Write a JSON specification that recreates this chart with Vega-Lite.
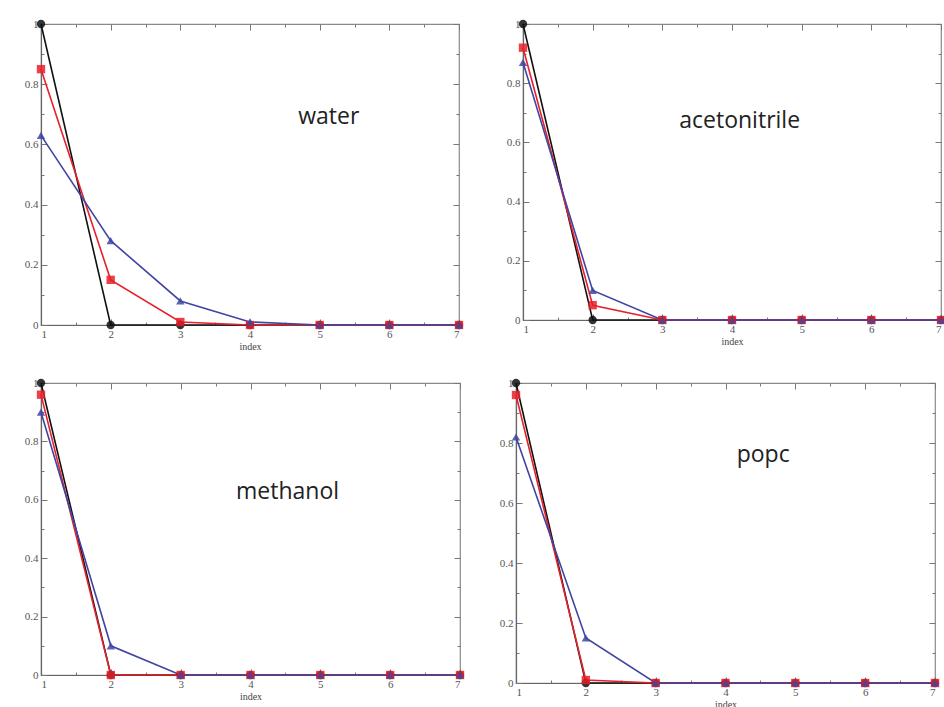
{
  "$schema": "https://vega.github.io/schema/vega-lite/v6.json",
  "padding": {"left": 4, "top": 17, "right": 0, "bottom": 0},
  "background": "white",
  "datasets": {
    "curves": [
      {"panel": "water", "series": "A", "index": 1, "value": 1.0},
      {"panel": "water", "series": "A", "index": 2, "value": 0},
      {"panel": "water", "series": "A", "index": 3, "value": 0},
      {"panel": "water", "series": "A", "index": 4, "value": 0},
      {"panel": "water", "series": "A", "index": 5, "value": 0},
      {"panel": "water", "series": "A", "index": 6, "value": 0},
      {"panel": "water", "series": "A", "index": 7, "value": 0},
      {"panel": "water", "series": "B", "index": 1, "value": 0.85},
      {"panel": "water", "series": "B", "index": 2, "value": 0.15},
      {"panel": "water", "series": "B", "index": 3, "value": 0.01},
      {"panel": "water", "series": "B", "index": 4, "value": 0},
      {"panel": "water", "series": "B", "index": 5, "value": 0},
      {"panel": "water", "series": "B", "index": 6, "value": 0},
      {"panel": "water", "series": "B", "index": 7, "value": 0},
      {"panel": "water", "series": "C", "index": 1, "value": 0.63},
      {"panel": "water", "series": "C", "index": 2, "value": 0.28},
      {"panel": "water", "series": "C", "index": 3, "value": 0.08},
      {"panel": "water", "series": "C", "index": 4, "value": 0.01},
      {"panel": "water", "series": "C", "index": 5, "value": 0},
      {"panel": "water", "series": "C", "index": 6, "value": 0},
      {"panel": "water", "series": "C", "index": 7, "value": 0},
      {"panel": "acetonitrile", "series": "A", "index": 1, "value": 1.0},
      {"panel": "acetonitrile", "series": "A", "index": 2, "value": 0},
      {"panel": "acetonitrile", "series": "A", "index": 3, "value": 0},
      {"panel": "acetonitrile", "series": "A", "index": 4, "value": 0},
      {"panel": "acetonitrile", "series": "A", "index": 5, "value": 0},
      {"panel": "acetonitrile", "series": "A", "index": 6, "value": 0},
      {"panel": "acetonitrile", "series": "A", "index": 7, "value": 0},
      {"panel": "acetonitrile", "series": "B", "index": 1, "value": 0.92},
      {"panel": "acetonitrile", "series": "B", "index": 2, "value": 0.05},
      {"panel": "acetonitrile", "series": "B", "index": 3, "value": 0},
      {"panel": "acetonitrile", "series": "B", "index": 4, "value": 0},
      {"panel": "acetonitrile", "series": "B", "index": 5, "value": 0},
      {"panel": "acetonitrile", "series": "B", "index": 6, "value": 0},
      {"panel": "acetonitrile", "series": "B", "index": 7, "value": 0},
      {"panel": "acetonitrile", "series": "C", "index": 1, "value": 0.87},
      {"panel": "acetonitrile", "series": "C", "index": 2, "value": 0.10},
      {"panel": "acetonitrile", "series": "C", "index": 3, "value": 0},
      {"panel": "acetonitrile", "series": "C", "index": 4, "value": 0},
      {"panel": "acetonitrile", "series": "C", "index": 5, "value": 0},
      {"panel": "acetonitrile", "series": "C", "index": 6, "value": 0},
      {"panel": "acetonitrile", "series": "C", "index": 7, "value": 0},
      {"panel": "methanol", "series": "A", "index": 1, "value": 1.0},
      {"panel": "methanol", "series": "A", "index": 2, "value": 0},
      {"panel": "methanol", "series": "A", "index": 3, "value": 0},
      {"panel": "methanol", "series": "A", "index": 4, "value": 0},
      {"panel": "methanol", "series": "A", "index": 5, "value": 0},
      {"panel": "methanol", "series": "A", "index": 6, "value": 0},
      {"panel": "methanol", "series": "A", "index": 7, "value": 0},
      {"panel": "methanol", "series": "B", "index": 1, "value": 0.96},
      {"panel": "methanol", "series": "B", "index": 2, "value": 0},
      {"panel": "methanol", "series": "B", "index": 3, "value": 0},
      {"panel": "methanol", "series": "B", "index": 4, "value": 0},
      {"panel": "methanol", "series": "B", "index": 5, "value": 0},
      {"panel": "methanol", "series": "B", "index": 6, "value": 0},
      {"panel": "methanol", "series": "B", "index": 7, "value": 0},
      {"panel": "methanol", "series": "C", "index": 1, "value": 0.90},
      {"panel": "methanol", "series": "C", "index": 2, "value": 0.10},
      {"panel": "methanol", "series": "C", "index": 3, "value": 0},
      {"panel": "methanol", "series": "C", "index": 4, "value": 0},
      {"panel": "methanol", "series": "C", "index": 5, "value": 0},
      {"panel": "methanol", "series": "C", "index": 6, "value": 0},
      {"panel": "methanol", "series": "C", "index": 7, "value": 0},
      {"panel": "popc", "series": "A", "index": 1, "value": 1.0},
      {"panel": "popc", "series": "A", "index": 2, "value": 0},
      {"panel": "popc", "series": "A", "index": 3, "value": 0},
      {"panel": "popc", "series": "A", "index": 4, "value": 0},
      {"panel": "popc", "series": "A", "index": 5, "value": 0},
      {"panel": "popc", "series": "A", "index": 6, "value": 0},
      {"panel": "popc", "series": "A", "index": 7, "value": 0},
      {"panel": "popc", "series": "B", "index": 1, "value": 0.96},
      {"panel": "popc", "series": "B", "index": 2, "value": 0.01},
      {"panel": "popc", "series": "B", "index": 3, "value": 0},
      {"panel": "popc", "series": "B", "index": 4, "value": 0},
      {"panel": "popc", "series": "B", "index": 5, "value": 0},
      {"panel": "popc", "series": "B", "index": 6, "value": 0},
      {"panel": "popc", "series": "B", "index": 7, "value": 0},
      {"panel": "popc", "series": "C", "index": 1, "value": 0.82},
      {"panel": "popc", "series": "C", "index": 2, "value": 0.15},
      {"panel": "popc", "series": "C", "index": 3, "value": 0},
      {"panel": "popc", "series": "C", "index": 4, "value": 0},
      {"panel": "popc", "series": "C", "index": 5, "value": 0},
      {"panel": "popc", "series": "C", "index": 6, "value": 0},
      {"panel": "popc", "series": "C", "index": 7, "value": 0}
    ],
    "labels": [
      {"panel": "water", "label": "water", "x": 5.13, "y": 0.69},
      {"panel": "acetonitrile", "label": "acetonitrile", "x": 4.11, "y": 0.672},
      {"panel": "methanol", "label": "methanol", "x": 4.53, "y": 0.627},
      {"panel": "popc", "label": "popc", "x": 4.54, "y": 0.76}
    ]
  },
  "config": {
    "view": {"stroke": "#8a8a8a", "strokeWidth": 1.2},
    "axis": {
      "grid": false,
      "labelFont": "Liberation Serif",
      "labelFontSize": 11,
      "labelColor": "#555555",
      "domainColor": "#666666",
      "domainWidth": 1.2,
      "tickColor": "#777777",
      "tickWidth": 1,
      "titleFont": "Liberation Serif",
      "titleFontSize": 10,
      "titleFontWeight": "normal",
      "titleColor": "#444444"
    }
  },
  "concat": [
    {
      "width": 418, "height": 301,
      "layer": [
        {"data": {"name": "curves"}, "transform": [{"filter": "datum.panel === 'water'"}],
         "mark": {"type": "line", "strokeWidth": 1.6},
         "encoding": {
           "x": {"field": "index", "type": "quantitative", "scale": {"domain": [1, 7], "nice": false},
                 "axis": {"orient": "bottom", "values": [1, 1.5, 2, 2.5, 3, 3.5, 4, 4.5, 5, 5.5, 6, 6.5, 7], "labelExpr": "datum.value % 1 === 0 ? format(datum.value, 'd') : ''", "tickSize": {"condition": {"test": "datum.value % 1 === 0", "value": -6}, "value": -3}, "labelPadding": 9, "title": "index", "titlePadding": 2, "minExtent": 14, "maxExtent": 14}},
           "y": {"field": "value", "type": "quantitative", "scale": {"domain": [0, 1], "nice": false},
                 "axis": {"orient": "left", "values": [0, 0.1, 0.2, 0.3, 0.4, 0.5, 0.6, 0.7, 0.8, 0.9, 1], "labelExpr": "round(datum.value * 10) % 2 === 0 ? format(datum.value, '~g') : ''", "tickSize": {"condition": {"test": "round(datum.value * 10) % 2 === 0", "value": -6}, "value": -3}, "labelPadding": 9, "title": null, "minExtent": 27, "maxExtent": 27}},
           "color": {"field": "series", "type": "nominal", "scale": {"domain": ["A", "B", "C"], "range": ["#111111", "#e8202a", "#4045a3"]}, "legend": null}
         }},
        {"data": {"name": "curves"}, "transform": [{"filter": "datum.panel === 'water'"}],
         "mark": {"type": "point", "filled": true, "opacity": 0.85, "size": 70},
         "encoding": {
           "x": {"field": "index", "type": "quantitative", "axis": {"orient": "top", "values": [1, 1.5, 2, 2.5, 3, 3.5, 4, 4.5, 5, 5.5, 6, 6.5, 7], "labels": false, "domain": false, "title": null, "tickSize": {"condition": {"test": "datum.value % 1 === 0", "value": -6}, "value": -3}, "minExtent": 0, "maxExtent": 0}},
           "y": {"field": "value", "type": "quantitative", "axis": {"orient": "right", "values": [0, 0.1, 0.2, 0.3, 0.4, 0.5, 0.6, 0.7, 0.8, 0.9, 1], "labels": false, "domain": false, "title": null, "tickSize": {"condition": {"test": "round(datum.value * 10) % 2 === 0", "value": -6}, "value": -3}, "minExtent": 0, "maxExtent": 0}},
           "color": {"field": "series", "type": "nominal", "legend": null},
           "shape": {"field": "series", "type": "nominal", "scale": {"domain": ["A", "B", "C"], "range": ["circle", "square", "triangle-up"]}, "legend": null}
         }},
        {"data": {"name": "labels"}, "transform": [{"filter": "datum.panel === 'water'"}],
         "mark": {"type": "text", "font": "Open Sans", "fontSize": 23, "color": "#222222", "baseline": "middle", "align": "center"},
         "encoding": {
           "x": {"field": "x", "type": "quantitative", "axis": null},
           "y": {"field": "y", "type": "quantitative", "axis": null},
           "text": {"field": "label"}
         }}
      ]
    },
    {
      "width": 418, "height": 296,
      "layer": [
        {"data": {"name": "curves"}, "transform": [{"filter": "datum.panel === 'acetonitrile'"}],
         "mark": {"type": "line", "strokeWidth": 1.6},
         "encoding": {
           "x": {"field": "index", "type": "quantitative", "scale": {"domain": [1, 7], "nice": false},
                 "axis": {"orient": "bottom", "values": [1, 1.5, 2, 2.5, 3, 3.5, 4, 4.5, 5, 5.5, 6, 6.5, 7], "labelExpr": "datum.value % 1 === 0 ? format(datum.value, 'd') : ''", "tickSize": {"condition": {"test": "datum.value % 1 === 0", "value": -6}, "value": -3}, "labelPadding": 9, "title": "index", "titlePadding": 2, "minExtent": 14, "maxExtent": 14}},
           "y": {"field": "value", "type": "quantitative", "scale": {"domain": [0, 1], "nice": false},
                 "axis": {"orient": "left", "values": [0, 0.1, 0.2, 0.3, 0.4, 0.5, 0.6, 0.7, 0.8, 0.9, 1], "labelExpr": "round(datum.value * 10) % 2 === 0 ? format(datum.value, '~g') : ''", "tickSize": {"condition": {"test": "round(datum.value * 10) % 2 === 0", "value": -6}, "value": -3}, "labelPadding": 9, "title": null, "minExtent": 30, "maxExtent": 30}},
           "color": {"field": "series", "type": "nominal", "scale": {"domain": ["A", "B", "C"], "range": ["#111111", "#e8202a", "#4045a3"]}, "legend": null}
         }},
        {"data": {"name": "curves"}, "transform": [{"filter": "datum.panel === 'acetonitrile'"}],
         "mark": {"type": "point", "filled": true, "opacity": 0.85, "size": 70},
         "encoding": {
           "x": {"field": "index", "type": "quantitative", "axis": {"orient": "top", "values": [1, 1.5, 2, 2.5, 3, 3.5, 4, 4.5, 5, 5.5, 6, 6.5, 7], "labels": false, "domain": false, "title": null, "tickSize": {"condition": {"test": "datum.value % 1 === 0", "value": -6}, "value": -3}, "minExtent": 0, "maxExtent": 0}},
           "y": {"field": "value", "type": "quantitative", "axis": {"orient": "right", "values": [0, 0.1, 0.2, 0.3, 0.4, 0.5, 0.6, 0.7, 0.8, 0.9, 1], "labels": false, "domain": false, "title": null, "tickSize": {"condition": {"test": "round(datum.value * 10) % 2 === 0", "value": -6}, "value": -3}, "minExtent": 0, "maxExtent": 0}},
           "color": {"field": "series", "type": "nominal", "legend": null},
           "shape": {"field": "series", "type": "nominal", "scale": {"domain": ["A", "B", "C"], "range": ["circle", "square", "triangle-up"]}, "legend": null}
         }},
        {"data": {"name": "labels"}, "transform": [{"filter": "datum.panel === 'acetonitrile'"}],
         "mark": {"type": "text", "font": "Open Sans", "fontSize": 23, "color": "#222222", "baseline": "middle", "align": "center"},
         "encoding": {
           "x": {"field": "x", "type": "quantitative", "axis": null},
           "y": {"field": "y", "type": "quantitative", "axis": null},
           "text": {"field": "label"}
         }}
      ]
    },
    {
      "width": 419, "height": 292,
      "layer": [
        {"data": {"name": "curves"}, "transform": [{"filter": "datum.panel === 'methanol'"}],
         "mark": {"type": "line", "strokeWidth": 1.6},
         "encoding": {
           "x": {"field": "index", "type": "quantitative", "scale": {"domain": [1, 7], "nice": false},
                 "axis": {"orient": "bottom", "values": [1, 1.5, 2, 2.5, 3, 3.5, 4, 4.5, 5, 5.5, 6, 6.5, 7], "labelExpr": "datum.value % 1 === 0 ? format(datum.value, 'd') : ''", "tickSize": {"condition": {"test": "datum.value % 1 === 0", "value": -6}, "value": -3}, "labelPadding": 9, "title": "index", "titlePadding": 2, "minExtent": 14, "maxExtent": 14}},
           "y": {"field": "value", "type": "quantitative", "scale": {"domain": [0, 1], "nice": false},
                 "axis": {"orient": "left", "values": [0, 0.1, 0.2, 0.3, 0.4, 0.5, 0.6, 0.7, 0.8, 0.9, 1], "labelExpr": "round(datum.value * 10) % 2 === 0 ? format(datum.value, '~g') : ''", "tickSize": {"condition": {"test": "round(datum.value * 10) % 2 === 0", "value": -6}, "value": -3}, "labelPadding": 9, "title": null, "minExtent": 36, "maxExtent": 36}},
           "color": {"field": "series", "type": "nominal", "scale": {"domain": ["A", "B", "C"], "range": ["#111111", "#e8202a", "#4045a3"]}, "legend": null}
         }},
        {"data": {"name": "curves"}, "transform": [{"filter": "datum.panel === 'methanol'"}],
         "mark": {"type": "point", "filled": true, "opacity": 0.85, "size": 70},
         "encoding": {
           "x": {"field": "index", "type": "quantitative", "axis": {"orient": "top", "values": [1, 1.5, 2, 2.5, 3, 3.5, 4, 4.5, 5, 5.5, 6, 6.5, 7], "labels": false, "domain": false, "title": null, "tickSize": {"condition": {"test": "datum.value % 1 === 0", "value": -6}, "value": -3}, "minExtent": 0, "maxExtent": 0}},
           "y": {"field": "value", "type": "quantitative", "axis": {"orient": "right", "values": [0, 0.1, 0.2, 0.3, 0.4, 0.5, 0.6, 0.7, 0.8, 0.9, 1], "labels": false, "domain": false, "title": null, "tickSize": {"condition": {"test": "round(datum.value * 10) % 2 === 0", "value": -6}, "value": -3}, "minExtent": 0, "maxExtent": 0}},
           "color": {"field": "series", "type": "nominal", "legend": null},
           "shape": {"field": "series", "type": "nominal", "scale": {"domain": ["A", "B", "C"], "range": ["circle", "square", "triangle-up"]}, "legend": null}
         }},
        {"data": {"name": "labels"}, "transform": [{"filter": "datum.panel === 'methanol'"}],
         "mark": {"type": "text", "font": "Open Sans", "fontSize": 23, "color": "#222222", "baseline": "middle", "align": "center"},
         "encoding": {
           "x": {"field": "x", "type": "quantitative", "axis": null},
           "y": {"field": "y", "type": "quantitative", "axis": null},
           "text": {"field": "label"}
         }}
      ]
    },
    {
      "width": 419, "height": 300,
      "layer": [
        {"data": {"name": "curves"}, "transform": [{"filter": "datum.panel === 'popc'"}],
         "mark": {"type": "line", "strokeWidth": 1.6},
         "encoding": {
           "x": {"field": "index", "type": "quantitative", "scale": {"domain": [1, 7], "nice": false},
                 "axis": {"orient": "bottom", "values": [1, 1.5, 2, 2.5, 3, 3.5, 4, 4.5, 5, 5.5, 6, 6.5, 7], "labelExpr": "datum.value % 1 === 0 ? format(datum.value, 'd') : ''", "tickSize": {"condition": {"test": "datum.value % 1 === 0", "value": -6}, "value": -3}, "labelPadding": 9, "title": "index", "titlePadding": 2, "minExtent": 14, "maxExtent": 14}},
           "y": {"field": "value", "type": "quantitative", "scale": {"domain": [0, 1], "nice": false},
                 "axis": {"orient": "left", "values": [0, 0.1, 0.2, 0.3, 0.4, 0.5, 0.6, 0.7, 0.8, 0.9, 1], "labelExpr": "round(datum.value * 10) % 2 === 0 ? format(datum.value, '~g') : ''", "tickSize": {"condition": {"test": "round(datum.value * 10) % 2 === 0", "value": -6}, "value": -3}, "labelPadding": 9, "title": null, "minExtent": 23, "maxExtent": 23}},
           "color": {"field": "series", "type": "nominal", "scale": {"domain": ["A", "B", "C"], "range": ["#111111", "#e8202a", "#4045a3"]}, "legend": null}
         }},
        {"data": {"name": "curves"}, "transform": [{"filter": "datum.panel === 'popc'"}],
         "mark": {"type": "point", "filled": true, "opacity": 0.85, "size": 70},
         "encoding": {
           "x": {"field": "index", "type": "quantitative", "axis": {"orient": "top", "values": [1, 1.5, 2, 2.5, 3, 3.5, 4, 4.5, 5, 5.5, 6, 6.5, 7], "labels": false, "domain": false, "title": null, "tickSize": {"condition": {"test": "datum.value % 1 === 0", "value": -6}, "value": -3}, "minExtent": 0, "maxExtent": 0}},
           "y": {"field": "value", "type": "quantitative", "axis": {"orient": "right", "values": [0, 0.1, 0.2, 0.3, 0.4, 0.5, 0.6, 0.7, 0.8, 0.9, 1], "labels": false, "domain": false, "title": null, "tickSize": {"condition": {"test": "round(datum.value * 10) % 2 === 0", "value": -6}, "value": -3}, "minExtent": 0, "maxExtent": 0}},
           "color": {"field": "series", "type": "nominal", "legend": null},
           "shape": {"field": "series", "type": "nominal", "scale": {"domain": ["A", "B", "C"], "range": ["circle", "square", "triangle-up"]}, "legend": null}
         }},
        {"data": {"name": "labels"}, "transform": [{"filter": "datum.panel === 'popc'"}],
         "mark": {"type": "text", "font": "Open Sans", "fontSize": 23, "color": "#222222", "baseline": "middle", "align": "center"},
         "encoding": {
           "x": {"field": "x", "type": "quantitative", "axis": null},
           "y": {"field": "y", "type": "quantitative", "axis": null},
           "text": {"field": "label"}
         }}
      ]
    }
  ],
  "columns": 2,
  "align": "none",
  "spacing": {"row": 24, "column": 27}
}
